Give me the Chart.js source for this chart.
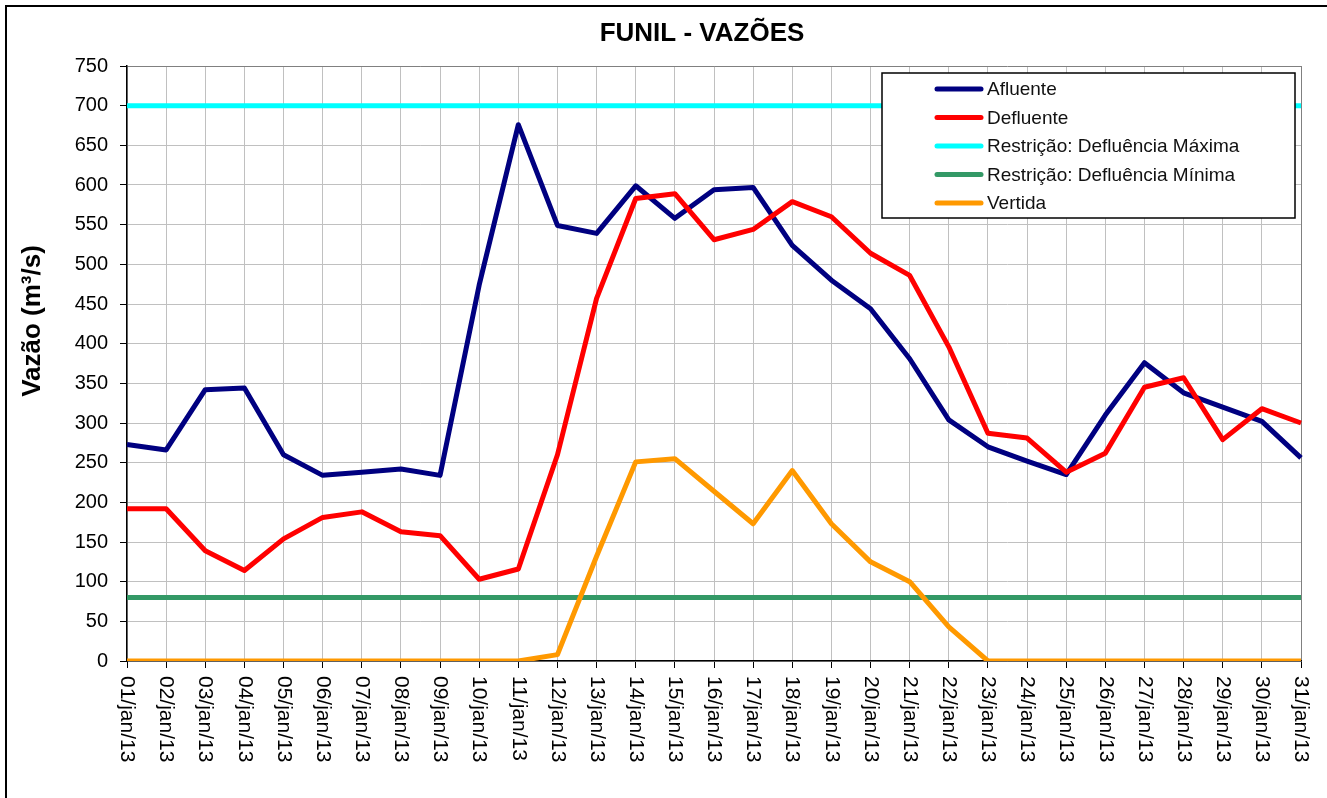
<!DOCTYPE html>
<html>
<head>
<meta charset="utf-8">
<script src="https://cdn.jsdelivr.net/npm/chart.js@4/dist/chart.umd.min.js"></script>
<style>
  body { margin: 0; background: #fff; overflow: hidden; }
  #frame { position: absolute; left: 5px; top: 5px; width: 1400px; height: 900px; border: 2px solid #000; pointer-events: none; }
  canvas { position: absolute; left: 0; top: 0; }
</style>
</head>
<body>
<canvas id="myLine" width="1327" height="798"></canvas>
<div id="frame"></div>
<script>
const dias = ['01/jan/13','02/jan/13','03/jan/13','04/jan/13','05/jan/13','06/jan/13','07/jan/13','08/jan/13',
  '09/jan/13','10/jan/13','11/jan/13','12/jan/13','13/jan/13','14/jan/13','15/jan/13','16/jan/13','17/jan/13',
  '18/jan/13','19/jan/13','20/jan/13','21/jan/13','22/jan/13','23/jan/13','24/jan/13','25/jan/13','26/jan/13',
  '27/jan/13','28/jan/13','29/jan/13','30/jan/13','31/jan/13'];
const afluente = [273,266,342,344,260,234,238,242,234,474,676,549,539,599,558,594,597,524,480,444,381,304,270,252,235,310,376,338,320,302,256];
const defluente = [192,192,139,114,154,181,188,163,158,103,116,260,457,583,589,531,544,579,560,514,486,396,287,281,238,262,345,357,279,318,300];
const defMaxima = [700,700,700,700,700,700,700,700,700,700,700,700,700,700,700,700,700,700,700,700,700,700,700,700,700,700,700,700,700,700,700];
const defMinima = [80,80,80,80,80,80,80,80,80,80,80,80,80,80,80,80,80,80,80,80,80,80,80,80,80,80,80,80,80,80,80];
const vertida = [0,0,0,0,0,0,0,0,0,0,0,8,132,251,255,214,173,240,173,125,100,43,0,0,0,0,0,0,0,0,0];
const yTicks = [0,50,100,150,200,250,300,350,400,450,500,550,600,650,700,750];

const titulo = 'FUNIL - VAZÕES';
const tituloY = 'Vazão (m³/s)';
const fonte = 'Arial, "Liberation Sans", sans-serif';

// titulo, legenda, titulo do eixo y e rotulos do eixo x desenhados a mao
const extras = {
  id: 'extras',
  afterDraw(chart) {
    const ctx = chart.ctx;
    const area = chart.chartArea;
    const xs = chart.scales.x;
    ctx.save();
    ctx.fillStyle = '#000';
    // titulo
    ctx.font = 'bold 26px ' + fonte;
    ctx.textAlign = 'center';
    ctx.textBaseline = 'middle';
    ctx.fillText(titulo, 702, 34);
    // rotulos x
    ctx.font = '21px ' + fonte;
    ctx.textAlign = 'left';
    dias.forEach((d, i) => {
      const x = xs.getPixelForValue(i);
      ctx.save();
      ctx.translate(x, area.bottom + 15);
      ctx.rotate(Math.PI / 2);
      ctx.fillText(d, 0, 0);
      ctx.restore();
    });
    // titulo eixo y
    ctx.save();
    ctx.font = 'bold 26px ' + fonte;
    ctx.textAlign = 'center';
    ctx.translate(33, 321);
    ctx.rotate(-Math.PI / 2);
    ctx.fillText(tituloY, 0, 0);
    ctx.restore();
    // legenda
    const bx = area.right - 419, by = area.top + 7, bw = 413, bh = 145;
    ctx.textAlign = 'left';
    ctx.fillStyle = '#fff';
    ctx.fillRect(bx, by, bw, bh);
    ctx.strokeStyle = '#000';
    ctx.lineWidth = 1.5;
    ctx.strokeRect(bx, by, bw, bh);
    ctx.font = '19px ' + fonte;
    chart.data.datasets.forEach((ds, i) => {
      const y = by + 16 + i * 28.5;
      ctx.strokeStyle = ds.borderColor;
      ctx.lineWidth = 5;
      ctx.lineCap = 'round';
      ctx.beginPath();
      ctx.moveTo(bx + 55, y);
      ctx.lineTo(bx + 99, y);
      ctx.stroke();
      ctx.fillStyle = '#111';
      ctx.fillText(ds.label, bx + 105, y + 1);
    });
    ctx.restore();
  }
};

function serie(label, data, cor, ordem) {
  return {
    label: label,
    data: data,
    borderColor: cor,
    backgroundColor: cor,
    borderWidth: 5,
    pointRadius: 0,
    tension: 0,
    fill: false,
    borderJoinStyle: 'round',
    order: ordem
  };
}

let crt = document.getElementById('myLine');
let lineChart = new Chart(crt, {
  type: 'line',
  data: {
    labels: dias,
    datasets: [
      serie('Afluente', afluente, '#000080', 5),
      serie('Defluente', defluente, '#ff0000', 4),
      serie('Restrição: Defluência Máxima', defMaxima, '#00ffff', 3),
      serie('Restrição: Defluência Mínima', defMinima, '#339966', 2),
      serie('Vertida', vertida, '#ff9900', 1)
    ]
  },
  options: {
    responsive: false,
    animation: false,
    layout: { padding: { left: 0, right: 26, top: 66, bottom: 130 } },
    plugins: {
      legend: { display: false },
      tooltip: { enabled: false },
      title: { display: false }
    },
    scales: {
      x: {
        offset: false,
        grid: {
          color: ctx => ctx.index === dias.length - 1 ? '#808080' : '#c0c0c0',
          lineWidth: 1,
          tickColor: '#000',
          tickLength: 7
        },
        border: { color: '#000', width: 1.5 },
        ticks: { display: false }
      },
      y: {
        min: 0,
        max: 750,
        afterBuildTicks: s => { s.ticks = yTicks.map(v => ({ value: v })); },
        afterFit: s => { s.width = 127; },
        grid: {
          color: ctx => ctx.tick && ctx.tick.value === 750 ? '#808080' : '#c0c0c0',
          lineWidth: 1,
          tickColor: '#000',
          tickLength: 7
        },
        border: { color: '#000', width: 1.5 },
        ticks: {
          color: '#000',
          padding: 12,
          font: { family: fonte, size: 20 }
        }
      }
    }
  },
  plugins: [extras]
});
</script>
</body>
</html>
